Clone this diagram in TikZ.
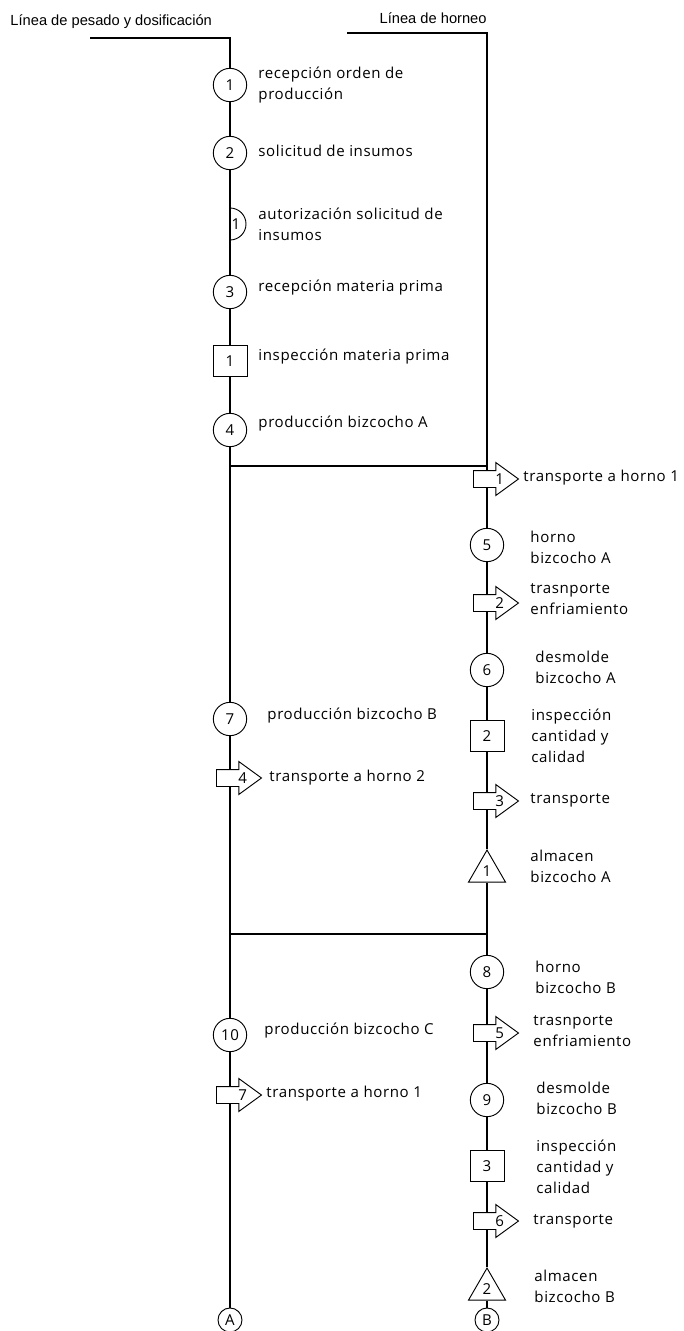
\documentclass[tikz,border=0pt]{standalone}
\usepackage{fontspec}
\setmainfont{Open Sans}[LetterSpace=4]
\newfontfamily\titlefont{Liberation Sans}
\usetikzlibrary{shapes.geometric,shapes.arrows}
\pgfdeclarelayer{background}
\pgfsetlayers{background,main}
\tikzset{
  opcirc/.style={circle, draw, fill=white, minimum size=25pt, inner sep=0pt, font=\fontsize{11.3}{12}\selectfont},
  inspbox/.style={rectangle, draw, fill=white, minimum width=25.5pt, minimum height=23.5pt, inner sep=0pt, font=\fontsize{11.3}{12}\selectfont},
  storetri/.style={regular polygon, regular polygon sides=3, draw, fill=white, minimum size=32pt, inner sep=0pt},
  transp/.style={single arrow, draw, fill=white, minimum height=33.75pt, inner xsep=0pt, inner ysep=6pt,
    single arrow head extend=6pt, single arrow tip angle=72, anchor=tail},
  numtext/.style={inner sep=0pt, font=\fontsize{11.3}{12}\selectfont},
  lbl/.style={anchor=west, align=left, inner sep=0pt, font=\fontsize{11.3}{15.75}\selectfont},
  ttl/.style={inner sep=0pt, font=\titlefont\fontsize{11}{13}\selectfont},
  conn/.style={line width=0.8pt}
}
\begin{document}
\begin{tikzpicture}[x=0.75pt, y=-0.75pt, line width=0.7pt]
    \useasboundingbox (0,0) rectangle (683,1331);
    % titles
    \node[ttl, anchor=west] (ttlL) at (10,22) {Línea de pesado y dosificación};
    \node[ttl, anchor=east] (ttlR) at (487,18) {Línea de horneo};
    \coordinate (lt) at (230,38);
    \coordinate (rt) at (487,33);
    % linea de pesado y dosificacion
    \node[opcirc] (c1) at (230,85) {1};
    \node[lbl] at (258,85.5) {recepción orden de\\producción};
    \node[opcirc] (c2) at (230,153) {2};
    \node[lbl] at (258,151) {solicitud de insumos};
    \node[numtext] (h1) at (236,224) {1};
    \draw (230,208) arc[start angle=-90, end angle=90, radius=16];
    \node[lbl] at (258,224.5) {autorización solicitud de\\insumos};
    \node[opcirc] (c3) at (230,292) {3};
    \node[lbl] at (258,288) {recepción materia prima};
    \node[inspbox] (s1) at (230,361) {1};
    \node[lbl] at (258,357) {inspección materia prima};
    \node[opcirc] (c4) at (230,430) {4};
    \node[lbl] at (258,424) {producción bizcocho A};
    \coordinate (jL1) at (230,466);
    \node[opcirc] (c7) at (230,719) {7};
    \node[lbl] at (267,716) {producción bizcocho B};
    \node[transp] (t4) at (216,778) {};
    \node[numtext] at ([xshift=20pt]t4.tail) {4};
    \node[lbl] at (269,778) {transporte a horno 2};
    \coordinate (jL2) at (230,934);
    \node[opcirc] (c10) at (230,1035) {10};
    \node[lbl] at (264,1031) {producción bizcocho C};
    \node[transp] (t7) at (216,1095) {};
    \node[numtext] at ([xshift=20pt]t7.tail) {7};
    \node[lbl] at (266,1094) {transporte a horno 1};
    \node[opcirc, minimum size=18pt] (A) at (230,1320) {A};
    % linea de horneo
    \node[transp] (t1) at (473,479) {};
    \node[numtext] at ([xshift=20pt]t1.tail) {1};
    \node[lbl] at (523,478) {transporte a horno 1};
    \node[opcirc] (c5) at (487,545) {5};
    \node[lbl] at (530,547) {horno\\bizcocho A};
    \node[transp] (t2) at (473,603) {};
    \node[numtext] at ([xshift=20pt]t2.tail) {2};
    \node[lbl] at (530,599) {trasnporte\\enfriamiento};
    \node[opcirc] (c6) at (487,670) {6};
    \node[lbl] at (535,667.5) {desmolde\\bizcocho A};
    \node[inspbox] (s2) at (487,736) {2};
    \node[lbl] at (531,736) {inspección\\cantidad y\\calidad};
    \node[transp] (t3) at (473,801) {};
    \node[numtext] at ([xshift=20pt]t3.tail) {3};
    \node[lbl] at (530,800) {transporte};
    \node[storetri] (tr1) at (487,871.4) {};
    \node[numtext] at (tr1) {1};
    \node[lbl] at (530,866) {almacen\\bizcocho A};
    \node[opcirc] (c8) at (487,972) {8};
    \node[lbl] at (535,977) {horno\\bizcocho B};
    \node[transp] (t5) at (473,1033) {};
    \node[numtext] at ([xshift=20pt]t5.tail) {5};
    \node[lbl] at (533,1031) {trasnporte\\enfriamiento};
    \node[opcirc] (c9) at (487,1100) {9};
    \node[lbl] at (536,1098) {desmolde\\bizcocho B};
    \node[inspbox] (s3) at (487,1166) {3};
    \node[lbl] at (536,1167) {inspección\\cantidad y\\calidad};
    \node[transp] (t6) at (473,1221) {};
    \node[numtext] at ([xshift=20pt]t6.tail) {6};
    \node[lbl] at (533,1221) {transporte};
    \node[storetri] (tr2) at (487,1289.4) {};
    \node[numtext] at (tr2) {2};
    \node[lbl] at (534,1286) {almacen\\bizcocho B};
    \node[opcirc, minimum size=18pt] (B) at (487,1320) {B};
    % connectors
    \begin{pgfonlayer}{background}
        \draw[conn] (90,38) -- (lt) -- (c1) -- (c2) -- (c3) -- (s1) -- (c4) -- (c7)
            -- (t4 -| c7) -- (c10) -- (t7 -| c10) -- (A);
        \draw[conn] (347,33) -- (rt) -- (t1 -| rt) -- (c5) -- (t2 -| rt) -- (c6) -- (s2)
            -- (t3 -| rt) -- (tr1) -- (c8) -- (t5 -| rt) -- (c9) -- (s3) -- (t6 -| rt) -- (tr2) -- (B);
        \draw[conn] (jL1) -- (jL1 -| rt);
        \draw[conn] (jL2) -- (jL2 -| rt);
    \end{pgfonlayer}
\end{tikzpicture}
\end{document}
